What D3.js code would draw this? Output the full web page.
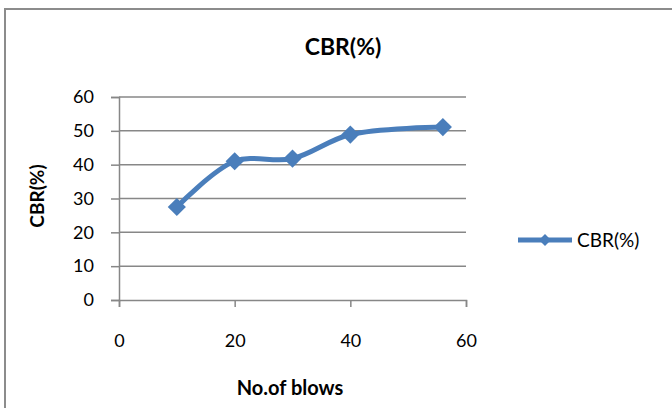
<!DOCTYPE html>
<html>
<head>
<meta charset="utf-8">
<script src="https://cdn.jsdelivr.net/npm/d3@7"></script>
<style>
  html, body { margin: 0; padding: 0; background: #fff; }
  svg { display: block; font-family: "Lato", "Open Sans", "Liberation Sans", sans-serif; }
</style>
</head>
<body>
<svg id="chart" width="672" height="408"></svg>
<script>
// CBR test results against compaction effort
const blows = [10, 20, 30, 40, 56];
const cbr = [27.5, 41, 41.8, 48.9, 51.1];
const xTicks = [0, 20, 40, 60];
const yTicks = [0, 10, 20, 30, 40, 50, 60];
const seriesName = "CBR(%)";
const chartTitle = "CBR(%)";
const xTitle = "No.of blows";
const yTitle = "CBR(%)";

const svg = d3.select("#chart");
const blue = "#4A7EBB";
const grid = "#878787";
const font = "Lato, 'Open Sans', 'Liberation Sans', sans-serif";

// outer chart frame
svg.append("rect")
  .attr("x", 5).attr("y", 9)
  .attr("width", 680).attr("height", 420)
  .attr("fill", "#fff")
  .attr("stroke", "#8c8c8c").attr("stroke-width", 2);

const x = d3.scaleLinear().domain([0, 60]).range([119, 466]);
const y = d3.scaleLinear().domain([0, 60]).range([300, 97]);

// horizontal gridlines
svg.append("g").selectAll("line").data(yTicks.filter(d => d > 0)).join("line")
  .attr("x1", x(0)).attr("x2", x(60))
  .attr("y1", d => y(d)).attr("y2", d => y(d))
  .attr("stroke", grid).attr("stroke-width", 1.5);

// y axis
const yAxis = svg.append("g").attr("transform", `translate(${x(0)},0)`)
  .call(d3.axisLeft(y).tickValues(yTicks).tickSize(8).tickPadding(17));
// x axis
const xAxis = svg.append("g").attr("transform", `translate(0,${y(0)})`)
  .call(d3.axisBottom(x).tickValues(xTicks).tickSize(7).tickPadding(27));

[yAxis, xAxis].forEach(g => {
  g.select(".domain").attr("stroke", grid).attr("stroke-width", 1.5);
  g.selectAll(".tick line").attr("stroke", grid).attr("stroke-width", 1.5);
  g.selectAll(".tick text").attr("fill", "#000")
    .style("font-size", "18px")
    .style("font-family", font);
});

const pts = blows.map((b, i) => [b, cbr[i]]);

// smoothed series line
svg.append("path")
  .datum(pts)
  .attr("fill", "none")
  .attr("stroke", blue)
  .attr("stroke-width", 5)
  .attr("stroke-linejoin", "round")
  .attr("d", d3.line().x(d => x(d[0])).y(d => y(d[1])).curve(d3.curveCatmullRom.alpha(0.5)));

// diamond markers
const diamond = d3.symbol().type(d3.symbolDiamond2).size(210);
svg.append("g").selectAll("path").data(pts).join("path")
  .attr("transform", d => `translate(${x(d[0])},${y(d[1])})`)
  .attr("d", diamond)
  .attr("fill", blue);

// titles
svg.append("text")
  .attr("x", 343).attr("y", 55)
  .attr("text-anchor", "middle")
  .style("font-size", "23px").style("font-weight", "bold")
  .text(chartTitle);

svg.append("text")
  .attr("x", 290).attr("y", 395)
  .attr("text-anchor", "middle")
  .style("font-size", "20px").style("font-weight", "bold")
  .text(xTitle);

svg.append("text")
  .attr("transform", "translate(44,196) rotate(-90)")
  .attr("text-anchor", "middle")
  .style("font-size", "19px").style("font-weight", "bold")
  .text(yTitle);

// legend
const leg = svg.append("g").attr("transform", "translate(518,240)");
leg.append("line").attr("x1", 0).attr("x2", 54).attr("y1", 0).attr("y2", 0)
  .attr("stroke", blue).attr("stroke-width", 5);
leg.append("path").attr("transform", "translate(27,0)")
  .attr("d", d3.symbol().type(d3.symbolDiamond2).size(90)).attr("fill", blue);
leg.append("text").attr("x", 59).attr("y", 7)
  .style("font-size", "19px")
  .text(seriesName);
</script>
</body>
</html>
